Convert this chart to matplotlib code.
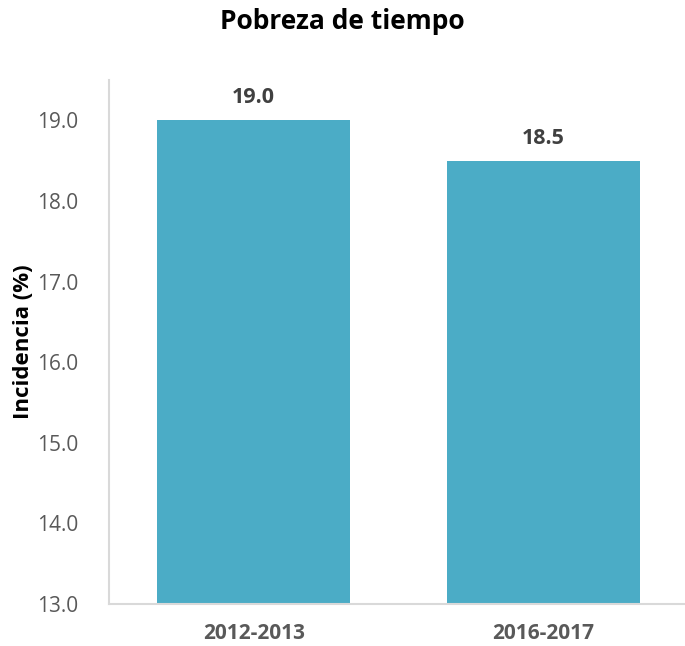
import matplotlib.pyplot as plt

plt.rcParams["font.family"] = ["Open Sans", "DejaVu Sans"]

periods = ["2012-2013", "2016-2017"]
incidence = [19.0, 18.5]
y_ticks = [13.0, 14.0, 15.0, 16.0, 17.0, 18.0, 19.0]

bar_color = "#4BACC6"
text_gray = "#595959"
dark_gray = "#404040"


def main():
    fig = plt.figure(figsize=(6.85, 6.46), dpi=100)
    ax = fig.add_axes([0.159, 0.065, 0.845, 0.811])

    x = range(len(periods))
    ax.bar(x, incidence, width=0.667, color=bar_color, zorder=2)

    for xi, val in zip(x, incidence):
        ax.text(xi, val + 0.15, f"{val:.1f}", ha="center", va="bottom",
                fontsize=15.5, fontweight="bold", color=dark_gray)

    ax.set_xlim(-0.5, len(periods) - 0.5)
    ax.set_ylim(13.0, 19.5)
    ax.set_yticks(y_ticks)
    ax.set_yticklabels([f"{t:.1f}" for t in y_ticks], fontsize=15, color=text_gray)
    ax.set_xticks(list(x))
    ax.set_xticklabels(periods, fontsize=15, fontweight="bold", color=text_gray)
    ax.tick_params(axis="both", length=0)
    ax.tick_params(axis="x", pad=14)
    ax.tick_params(axis="y", pad=22)

    for side in ["top", "right"]:
        ax.spines[side].set_visible(False)
    ax.spines["left"].set_color("#D9D9D9")
    ax.spines["bottom"].set_color("#D9D9D9")
    ax.spines["left"].set_linewidth(1.5)
    ax.spines["bottom"].set_linewidth(1.5)

    ax.set_ylabel("Incidencia (%)", fontsize=16, fontweight="bold", color="black", labelpad=2)
    fig.suptitle("Pobreza de tiempo", fontsize=19, fontweight="bold", y=0.987)

    fig.savefig("out.png", dpi=100)
    plt.close(fig)


if __name__ == "__main__":
    main()
